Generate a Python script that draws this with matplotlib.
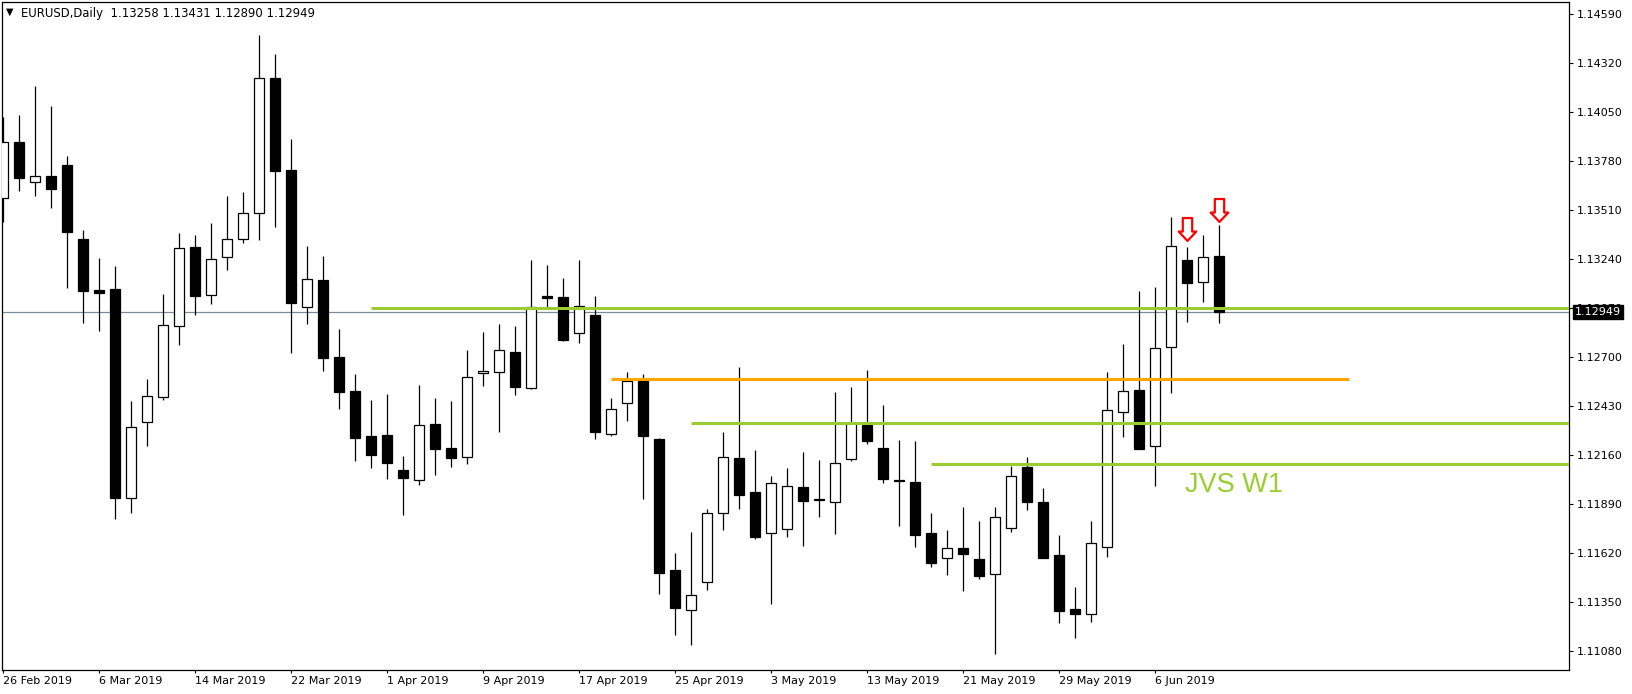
import numpy as np
import pandas as pd
import matplotlib
matplotlib.use('Agg')
import matplotlib.pyplot as plt
from matplotlib.path import Path
import matplotlib.transforms as mtransforms

# daily EURUSD candles, 26 Feb 2019 .. 12 Jun 2019
opens = [1.13576, 1.13885, 1.13668, 1.13699, 1.13760, 1.13352, 1.13071, 1.13076, 1.11923, 1.12342,
         1.12483, 1.12874, 1.13308, 1.13045, 1.13251, 1.13350, 1.13493, 1.14237, 1.13732, 1.12976,
         1.13124, 1.12702, 1.12513, 1.12265, 1.12270, 1.12077, 1.12022, 1.12332, 1.12200, 1.12149,
         1.12612, 1.12617, 1.12729, 1.12529, 1.13038, 1.13032, 1.12832, 1.12933, 1.12276, 1.12447,
         1.12571, 1.12250, 1.11528, 1.11306, 1.11460, 1.11840, 1.12143, 1.11956, 1.11730, 1.11752,
         1.11984, 1.11918, 1.11901, 1.12138, 1.12327, 1.12199, 1.12024, 1.12013, 1.11730, 1.11592,
         1.11648, 1.11589, 1.11504, 1.11758, 1.12096, 1.11901, 1.11611, 1.11313, 1.11284, 1.11653,
         1.12400, 1.12520, 1.12214, 1.12755, 1.13236, 1.13113, 1.13258]
highs = [1.14026, 1.14035, 1.14195, 1.14085, 1.13811, 1.13401, 1.13247, 1.13203, 1.12459, 1.12580,
         1.13049, 1.13383, 1.13374, 1.13438, 1.13589, 1.13609, 1.14476, 1.14371, 1.13903, 1.13313,
         1.13258, 1.12856, 1.12608, 1.12465, 1.12498, 1.12156, 1.12547, 1.12476, 1.12459, 1.12740,
         1.12839, 1.12883, 1.12872, 1.13236, 1.13209, 1.13137, 1.13236, 1.13038, 1.12474, 1.12617,
         1.12608, 1.12255, 1.11620, 1.11737, 1.11864, 1.12288, 1.12647, 1.12189, 1.12046, 1.12088,
         1.12177, 1.12134, 1.12507, 1.12538, 1.12630, 1.12437, 1.12244, 1.12239, 1.11842, 1.11748,
         1.11875, 1.11798, 1.11875, 1.12101, 1.12151, 1.11978, 1.11721, 1.11436, 1.11798, 1.12619,
         1.12773, 1.13065, 1.13087, 1.13473, 1.13308, 1.13374, 1.13431]
lows = [1.13447, 1.13618, 1.13590, 1.13524, 1.13084, 1.12891, 1.12847, 1.11807, 1.11844, 1.12213,
        1.12465, 1.12768, 1.12933, 1.12994, 1.13181, 1.13331, 1.13346, 1.13420, 1.12725, 1.12883,
        1.12626, 1.12415, 1.12130, 1.12092, 1.12031, 1.11831, 1.11996, 1.12051, 1.12097, 1.12114,
        1.12544, 1.12290, 1.12494, 1.12525, 1.12976, 1.12790, 1.12780, 1.12251, 1.12266, 1.12351,
        1.11918, 1.11396, 1.11172, 1.11116, 1.11420, 1.11750, 1.11864, 1.11700, 1.11341, 1.11712,
        1.11662, 1.11822, 1.11726, 1.12130, 1.12222, 1.12006, 1.11772, 1.11656, 1.11546, 1.11502,
        1.11414, 1.11480, 1.11064, 1.11739, 1.11860, 1.11592, 1.11238, 1.11155, 1.11243, 1.11598,
        1.12259, 1.12192, 1.11993, 1.12505, 1.12896, 1.13006, 1.12890]
closes = [1.13885, 1.13690, 1.13697, 1.13629, 1.13392, 1.13067, 1.13056, 1.11926, 1.12314, 1.12485,
          1.12876, 1.13301, 1.13038, 1.13240, 1.13350, 1.13493, 1.14237, 1.13728, 1.13001, 1.13130,
          1.12698, 1.12509, 1.12255, 1.12163, 1.12119, 1.12037, 1.12325, 1.12196, 1.12147, 1.12591,
          1.12623, 1.12739, 1.12538, 1.12976, 1.13028, 1.12795, 1.12981, 1.12290, 1.12413, 1.12568,
          1.12268, 1.11513, 1.11320, 1.11389, 1.11840, 1.12149, 1.11943, 1.11712, 1.12009, 1.11989,
          1.11910, 1.11912, 1.12116, 1.12338, 1.12240, 1.12031, 1.12018, 1.11723, 1.11568, 1.11648,
          1.11615, 1.11497, 1.11818, 1.12044, 1.11904, 1.11592, 1.11304, 1.11286, 1.11675, 1.12408,
          1.12513, 1.12196, 1.12750, 1.13315, 1.13107, 1.13251, 1.12949]

dates = pd.bdate_range('2019-02-26', '2019-06-12')
label_idx = list(range(0, 73, 6))
date_labels = [f'{dates[i].day} {dates[i].strftime("%b %Y")}' for i in label_idx]

y_ticks = [1.11080, 1.11350, 1.11620, 1.11890, 1.12160, 1.12430, 1.12700,
           1.12970, 1.13240, 1.13510, 1.13780, 1.14050, 1.14320, 1.14590]

# drawn levels
green_levels = [1.12970, 1.12336, 1.12110]
green_starts = [23, 43, 58]
orange_level = 1.12579
orange_span = [38, 84.1]
arrow_bars = [74, 76]
arrow_prices = [1.13407, 1.13509]
last_price = closes[-1]

W, H = 1633, 694
fig = plt.figure(figsize=(W / 100, H / 100), dpi=100)
ax = fig.add_axes([2 / W, (H - 670) / H, 1567 / W, 668 / H])
x_lim = [-0.0625, 97.875]
ax.set_xlim(x_lim)
ax.set_ylim(1.10977, 1.146577)

o = np.array(opens); c = np.array(closes)
x = np.arange(len(o))
up = c >= o
bottoms = np.minimum(o, c)
heights = np.maximum(np.abs(c - o), 0.00003)

ax.axhline(last_price, color='#7a8b99', lw=0.9, zorder=1)
ax.vlines(x, lows, highs, color='black', lw=0.9, zorder=2)
ax.bar(x, heights, bottom=bottoms, width=0.6,
       color=['white' if u else 'black' for u in up],
       edgecolor='black', linewidth=0.9, zorder=3)

for lvl, st in zip(green_levels, green_starts):
  ax.plot([st, x_lim[1]], [lvl, lvl], color='#9acd32', lw=2.2, zorder=4, solid_capstyle='butt')
ax.plot(orange_span, [orange_level, orange_level], color='#ffa500', lw=2.2, zorder=4, solid_capstyle='butt')

ax.text(73.9, 1.11959, 'JVS W1', color='#9acd32', fontsize=19.5,
        family='Liberation Sans', ha='left', va='baseline', zorder=5)

arrow = Path([(-0.41, 1), (0.41, 1), (0.41, -0.18), (0.77, -0.18), (0, -1),
              (-0.77, -0.18), (-0.41, -0.18), (-0.41, 1)],
             [Path.MOVETO] + [Path.LINETO] * 6 + [Path.CLOSEPOLY])
ax.plot(arrow_bars, arrow_prices, linestyle='none', marker=arrow, markersize=16.5,
        markerfacecolor='white', markeredgecolor='red', markeredgewidth=1.6, zorder=6)

# axes / ticks
ax.yaxis.tick_right()
ax.set_yticks(y_ticks)
ax.set_yticklabels([f'{v:.5f}' for v in y_ticks])
ax.tick_params(axis='y', length=3, width=0.8, pad=2.5, labelsize=8, direction='out')
ax.set_xticks(label_idx)
ax.set_xticklabels(date_labels, ha='left')
ax.tick_params(axis='x', length=2.2, width=0.8, pad=1.8, labelsize=8, direction='out')
for s in ax.spines.values():
  s.set_linewidth(0.9)
  s.set_color('black')

# current price box on the price scale
trans = mtransforms.blended_transform_factory(ax.transAxes, ax.transData)
trans = mtransforms.offset_copy(trans, fig=fig, x=6, y=0, units='dots')
ax.text(1.0, last_price, f'{last_price:.5f}', transform=trans, color='white', fontsize=8,
        ha='left', va='center', clip_on=False, zorder=10,
        bbox=dict(boxstyle='square,pad=0.2', fc='black', ec='black'))

fig.text(6 / W, 1 - 12 / H, '▼', fontsize=7, va='center')
fig.text(21 / W, 1 - 13 / H, 'EURUSD,Daily  1.13258 1.13431 1.12890 1.12949', fontsize=8.4, va='center')

fig.savefig('out.png', dpi=100)
